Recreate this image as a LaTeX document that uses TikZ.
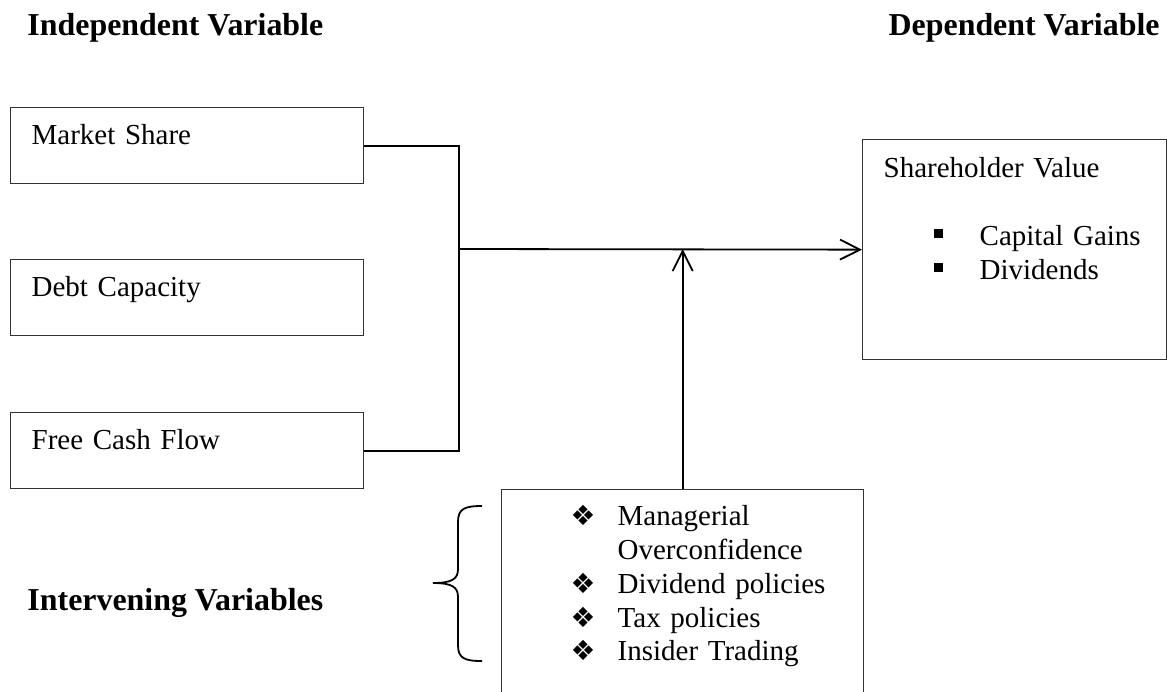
\documentclass[tikz,border=0pt]{standalone}
\usepackage{fontspec}
\setmainfont{Liberation Serif}
\newfontfamily\dejavu{DejaVu Sans}
\usetikzlibrary{arrows.meta}

\newdimen\pxu
\pxu=0.4138pt

\tikzset{
  varbox/.style={draw=black!80, line width=1.3\pxu, anchor=north west,
    inner xsep=21\pxu, inner ysep=0pt, align=left,
    font=\fontsize{12}{14}\selectfont},
  heading/.style={font=\bfseries\fontsize{13.2}{16}\selectfont, inner sep=0pt},
  link/.style={line width=1.8\pxu},
  >={Straight Barb[length=8.3pt,width=8.3pt]},
}
% list bullets as they sit in the boxes
\newcommand\sqitem{\hspace*{50\pxu}\makebox[46\pxu][l]{\rule[7\pxu]{9\pxu}{9\pxu}}}
\newcommand\dmitem{\hspace*{48\pxu}\makebox[47\pxu][l]{\dejavu\fontsize{11.5}{11.5}\selectfont ❖}}

\begin{document}
\begin{tikzpicture}[x=0.4138pt,y=-0.4138pt]
  \useasboundingbox (0,0) rectangle (1167,691);
  \clip (0,0) rectangle (1167,691);

  \node[heading,anchor=base west] (indep) at (27,35) {Independent Variable};
  \node[heading,anchor=base east] (dep) at (1160,35) {Dependent Variable};
  \node[heading,anchor=base west] (interv) at (27,610) {Intervening Variables};

  \node[varbox,text width=311\pxu,text height=37\pxu,text depth=39\pxu] (share) at (10,107) {Market Share};
  \node[varbox,text width=311\pxu,text height=37\pxu,text depth=39\pxu] (debt) at (10,259) {Debt Capacity};
  \node[varbox,text width=311\pxu,text height=37\pxu,text depth=39\pxu] (cash) at (10,412) {Free Cash Flow};

  \node[varbox,text width=262\pxu,text height=38\pxu,text depth=182\pxu] (value) at (862,139)
    {Shareholder Value\\[14pt] \sqitem Capital Gains\\ \sqitem Dividends};

  \node[varbox,text width=320\pxu,text height=36\pxu,text depth=211\pxu] (mods) at (501,489)
    {\dmitem Managerial\\ \hspace*{95\pxu}Overconfidence\\ \dmitem Dividend policies\\
     \dmitem Tax policies\\ \dmitem Insider Trading};

  \coordinate (join) at (459,249);
  \draw[link] (share.east) -| (join);
  \draw[link] (cash.east) -| (join);
  \draw[link,->] (join) -- (value.west);
  \draw[link,->] (mods.north) -- (mods.north |- join);

  % brace in front of the intervening box
  \draw[link] (482,506) .. controls (464,506) and (458,509) .. (458,522) -- (458,569)
    .. controls (458,579) and (452,583) .. (433,583)
    .. controls (452,583) and (458,587) .. (458,597) -- (458,645)
    .. controls (458,658) and (464,661) .. (482,661);
\end{tikzpicture}
\end{document}
